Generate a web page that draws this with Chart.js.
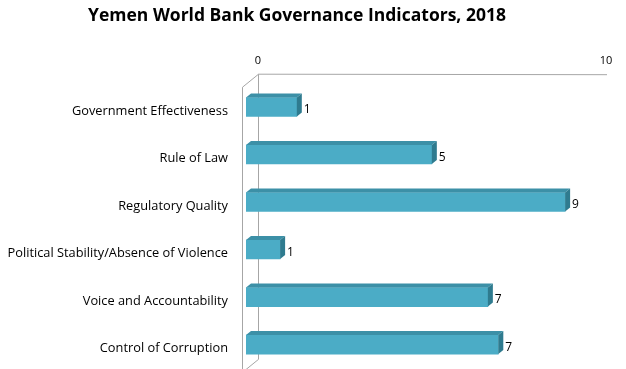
<!DOCTYPE html>
<html>
<head>
<meta charset="utf-8">
<script src="https://cdn.jsdelivr.net/npm/chart.js@4.4.1/dist/chart.umd.min.js"></script>
<style>
  html, body { margin: 0; padding: 0; background: #fff; }
  canvas { display: block; }
</style>
</head>
<body>
<canvas id="chart" width="626" height="369"></canvas>
<script>
const categories = [
    "Government Effectiveness",
    "Rule of Law",
    "Regulatory Quality",
    "Political Stability/Absence of Violence",
    "Voice and Accountability",
    "Control of Corruption"
];
const scores = [1.46, 5.34, 9.17, 0.98, 6.95, 7.25];
const axisMin = 0;
const axisMax = 10;

const FONT = "'Open Sans', sans-serif";
const FRONT = "#4bacc6";
const TOP = "#3c90a7";
const SIDE = "#2f7b8f";
const WALL = "#a6a6a6";
// oblique depth of bars
const BAR_DX = 5, BAR_DY = -4;

const threeD = {
    id: "threeD",
    beforeDatasetsDraw(chart) {
        const { ctx, chartArea: a, scales: { x } } = chart;
        const backX = a.left + 12, backTop = a.top - 9;
        const frontX = a.left - 4, frontTop = a.top + 4;
        const backBottom = a.bottom - 9;
        ctx.save();
        ctx.strokeStyle = WALL;
        ctx.lineWidth = 1;
        ctx.beginPath();
        ctx.moveTo(frontX + 0.5, chart.height + 5);
        ctx.lineTo(frontX + 0.5, frontTop);
        ctx.lineTo(backX + 0.5, backTop);
        ctx.lineTo(x.getPixelForValue(axisMax) + 13, backTop + 0.5);
        ctx.moveTo(backX + 0.5, backTop);
        ctx.lineTo(backX + 0.5, backBottom);
        ctx.lineTo(frontX + 0.5, backBottom + 13);
        ctx.stroke();
        ctx.restore();
    },
    afterDatasetsDraw(chart) {
        const { ctx } = chart;
        const meta = chart.getDatasetMeta(0);
        ctx.save();
        meta.data.forEach((bar, i) => {
            const p = bar.getProps(["x", "y", "base", "height"], true);
            const x0 = p.base, x1 = p.x;
            const y0 = p.y - p.height / 2, y1 = p.y + p.height / 2;
            ctx.fillStyle = TOP;
            ctx.beginPath();
            ctx.moveTo(x0, y0);
            ctx.lineTo(x0 + BAR_DX, y0 + BAR_DY);
            ctx.lineTo(x1 + BAR_DX, y0 + BAR_DY);
            ctx.lineTo(x1, y0);
            ctx.closePath();
            ctx.fill();
            ctx.fillStyle = SIDE;
            ctx.beginPath();
            ctx.moveTo(x1, y0);
            ctx.lineTo(x1 + BAR_DX, y0 + BAR_DY);
            ctx.lineTo(x1 + BAR_DX, y1 + BAR_DY);
            ctx.lineTo(x1, y1);
            ctx.closePath();
            ctx.fill();
            ctx.fillStyle = "#000";
            ctx.font = "12px " + FONT;
            ctx.textBaseline = "middle";
            ctx.textAlign = "left";
            ctx.fillText(String(Math.round(scores[i])), x1 + BAR_DX + 2, p.y + 3);
        });
        ctx.restore();
    }
};

new Chart(document.getElementById("chart"), {
    type: "bar",
    data: {
        labels: categories,
        datasets: [{
            data: scores,
            backgroundColor: FRONT,
            borderWidth: 0,
            barThickness: 19
        }]
    },
    plugins: [threeD],
    options: {
        indexAxis: "y",
        responsive: false,
        animation: false,
        layout: { padding: { left: 0, right: 32, top: 0, bottom: 0 } },
        plugins: {
            legend: { display: false },
            tooltip: { enabled: false },
            title: {
                display: true,
                text: "Yemen World Bank Governance Indicators, 2018",
                color: "#000",
                font: { family: FONT, size: 17.5, weight: "bold" },
                padding: { top: 6, bottom: 19 }
            }
        },
        scales: {
            x: {
                position: "top",
                min: axisMin,
                max: axisMax,
                grid: { display: false },
                border: { display: false },
                ticks: {
                    stepSize: 10,
                    labelOffset: 12,
                    padding: 8,
                    color: "#000",
                    font: { family: FONT, size: 11 }
                }
            },
            y: {
                grid: {
                    display: true,
                    drawOnChartArea: false,
                    drawTicks: true,
                    tickLength: 18,
                    tickColor: "rgba(0,0,0,0)"
                },
                border: { display: false },
                afterFit(s) { s.width = 246; },
                ticks: {
                    labelOffset: 4,
                    padding: 0,
                    color: "#000",
                    font: { family: FONT, size: 12.8, lineHeight: 0.1 }
                }
            }
        }
    }
});
</script>
</body>
</html>
